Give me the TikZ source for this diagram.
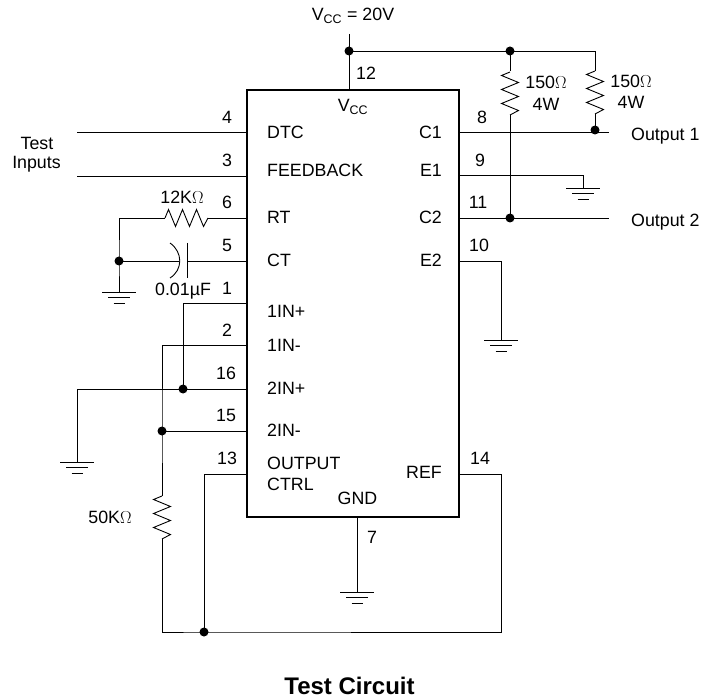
\documentclass[tikz,border=0pt]{standalone}
\usepackage{fontspec}
\setmainfont{Liberation Sans}
\usetikzlibrary{calc}
\tikzset{>=latex,
  wire/.style={black, line width=0.9pt},
  chipbox/.style={draw=black, line width=2pt, minimum width=212pt, minimum height=427pt, inner sep=0pt},
  dotjoin/.style={circle, fill=black, inner sep=0pt, minimum size=9pt},
  lab/.style={inner sep=0pt, font=\fontsize{17.8}{20}\selectfont},
  pics/gnd/.style={code={
    \draw[wire] (-17,0) -- (17,0);
    \draw[wire] (-11,5.5) -- (11,5.5);
    \draw[wire] (-5.5,11) -- (5.5,11);
  }},
  pics/resv/.style={code={
    \draw[wire] (0,0) -- (-8.5,3.5) -- (8.5,10.5) -- (-8.5,17.5) -- (8.5,24.5) -- (-8.5,31.5) -- (8.5,38.5) -- (0,43);
  }},
  pics/resh/.style={code={
    \draw[wire] (0,0) -- (3.5,-8.5) -- (10.5,8.5) -- (17.5,-8.5) -- (24.5,8.5) -- (31.5,-8.5) -- (38.5,8.5) -- (43,0);
  }}
}

\begin{document}
\begin{tikzpicture}[x=1pt,y=-1pt]
    \useasboundingbox (0,0) rectangle (701,700);

    \node[chipbox] (chip) at (353,303.5) {};

    % pin labels
    \foreach \name/\xx/\yy/\txt in {
        p4/227/117/4, p3/227/160/3, p6/227/202/6, p5/227/245/5, p1/227/288/1, p2/227/330/2,
        p16/226/373/16, p15/226/415/15, p13/227/458/13, p8/482/117/8, p9/480/160/9,
        p11/478/202/11, p10/479/245/10, p14/480/458/14, p12/366/73/12, p7/372/537/7} 
    {
        \node[lab] (\name) at (\xx,\yy) {\txt};
    }

    % names inside the chip
    \foreach \name/\xx/\yy/\txt in {
        n4/267/132/DTC, n3/267/170/FEEDBACK, n6/267/217/RT, n5/267/260/CT, n1/267/311/1IN+,
        n2/267/345/1IN-, n16/267/388/2IN+, n15/267/430/2IN-, n13a/267/463/OUTPUT, n13b/267/484/CTRL} 
    {
        \node[lab, anchor=west] (\name) at (\xx,\yy) {\txt};
    }
    \foreach \name/\xx/\yy/\txt in {n8/442/132/C1, n9/442/170/E1, n11/442/217/C2, n10/442/260/E2, n14/442/472/REF} 
    {
        \node[lab, anchor=east] (\name) at (\xx,\yy) {\txt};
    }
    \node[lab] (ngnd) at (357.5,498) {GND};
    \node[lab] (nvcc) at (353,107) {V\textsubscript{CC}};

    % other texts
    \node[lab] (vsup) at (353,16) {V\textsubscript{CC} = 20V};
    \node[lab] (test1) at (37,143) {Test};
    \node[lab] (test2) at (36.5,164) {Inputs};
    \node[lab] (r6lab) at (182,197) {12K$\Omega$};
    \node[lab] (c5lab) at (183,291) {0.01µF};
    \node[lab] (r50lab) at (110,517) {50K$\Omega$};
    \node[lab] (ra1) at (546,82) {150$\Omega$};
    \node[lab] (ra2) at (546,104) {4W};
    \node[lab] (rb1) at (631,81) {150$\Omega$};
    \node[lab] (rb2) at (631,102) {4W};
    \node[lab, anchor=west] (out1) at (631,136) {Output 1};
    \node[lab, anchor=west] (out2) at (631,222) {Output 2};
    \node[inner sep=0pt, font=\fontsize{24}{28}\selectfont\bfseries] (title) at (349.5,686) {Test Circuit};

    % wire ends
    \coordinate (l4) at (247,132);
    \coordinate (l3) at (247,176);
    \coordinate (l6) at (247,218);
    \coordinate (l5) at (247,261);
    \coordinate (l1) at (247,303);
    \coordinate (l2) at (247,345);
    \coordinate (l16) at (247,389);
    \coordinate (l15) at (247,431);
    \coordinate (l13) at (247,474);
    \coordinate (e8) at (459,132);
    \coordinate (e9) at (459,175);
    \coordinate (e11) at (459,218);
    \coordinate (e10) at (459,261);
    \coordinate (e14) at (459,474);
    \coordinate (t12) at (349,90);
    \coordinate (b7) at (357,517);

    \node[dotjoin] (jv) at (349,51) {};
    \node[dotjoin] (ja) at (510,51) {};
    \node[dotjoin] (jb) at (595,130) {};
    \node[dotjoin] (jc) at (510,218) {};
    \node[dotjoin] (jd) at (119,261) {};
    \node[dotjoin] (je) at (183,389) {};
    \node[dotjoin] (jf) at (162,431) {};
    \node[dotjoin] (jg) at (204,632) {};

    % left side
    \draw[wire] (77,132) -- (l4);
    \draw[wire] (77,176) -- (l3);
    \draw[wire] (l6) -- (208,218);
    \pic at (165,218) {resh};
    \draw[wire] (165,218) -- (119,218) -- (jd.center) -- (119,292);
    \pic at (119,292) {gnd};
    \draw[wire] (jd.center) -- (179,261);
    \draw[wire] (170,243) .. controls (183,252) and (183,270) .. (170,278);
    \draw[wire] (187,243) -- (187,278);
    \draw[wire] (187,261) -- (l5);
    \draw[wire] (l1) -- (183,303) -- (je.center);
    \draw[wire] (l2) -- (162,345) -- (jf.center) -- (162,496);
    \pic at (162,496) {resv};
    \draw[wire] (162,539) -- (162,632) -- (jg.center) -- (501,632) -- (501,474) -- (e14);
    \draw[wire] (l16) -- (77,389) -- (77,462);
    \pic at (77,462) {gnd};
    \draw[wire] (l15) -- (jf.center);
    \draw[wire] (l13) -- (204,474) -- (jg.center);

    % right side
    \draw[wire] (349,34) -- (t12);
    \draw[wire] (jv.center) -- (595,51) -- (595,71);
    \pic at (595,71) {resv};
    \draw[wire] (595,114) -- (jb.center);
    \draw[wire] (ja.center) -- (510,71);
    \pic at (510,72) {resv};
    \draw[wire] (510,115) -- (jc.center);
    \draw[wire] (e8) -- (609,132);
    \draw[wire] (e9) -- (583,175) -- (583,188);
    \pic at (583,188) {gnd};
    \draw[wire] (e11) -- (609,218);
    \draw[wire] (e10) -- (501,261) -- (501,340);
    \pic at (501,340) {gnd};
    \draw[wire] (b7) -- (357,592);
    \pic at (357,592) {gnd};
\end{tikzpicture}
\end{document}
